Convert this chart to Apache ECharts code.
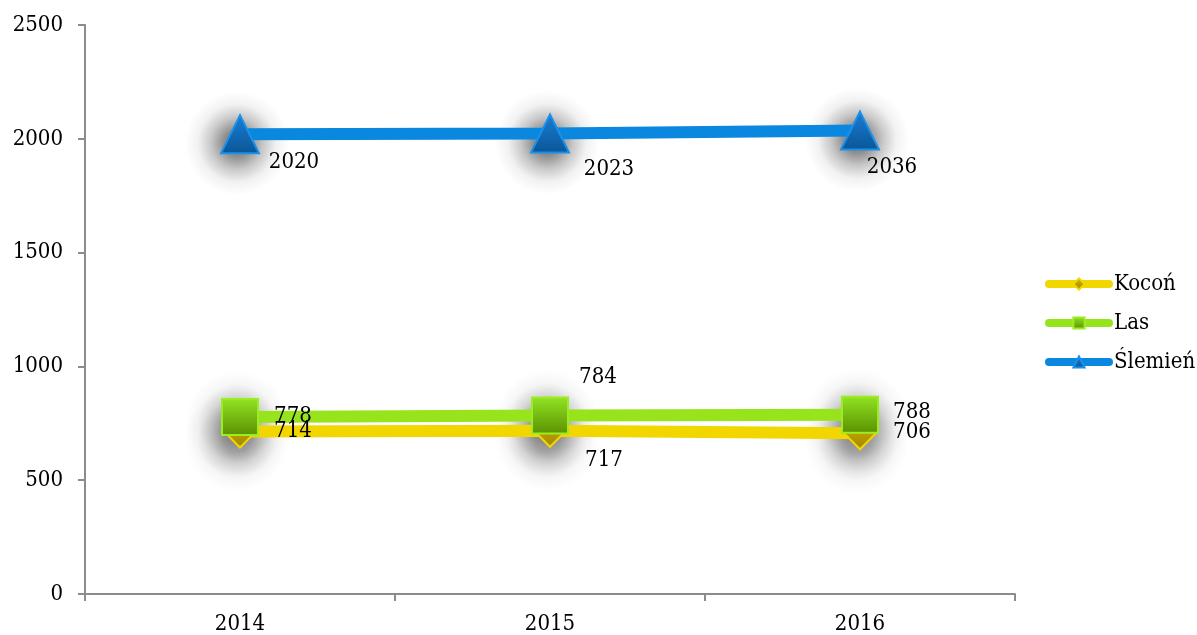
<!DOCTYPE html>
<html>
<head>
<meta charset="utf-8">
<script src="https://cdn.jsdelivr.net/npm/echarts@6/dist/echarts.min.js"></script>
<style>
  html, body { margin: 0; padding: 0; background: #fff; }
  #chart { width: 1197px; height: 635px; }
</style>
</head>
<body>
<div id="chart"></div>
<script>
// ---- data ----
var years = ['2014', '2015', '2016'];
var kocon = [714, 717, 706];
var las = [778, 784, 788];
var slemien = [2020, 2023, 2036];
var yTicks = [0, 500, 1000, 1500, 2000, 2500];

// label offsets per point (style only)
var koconOffsets = [[53, 0], [54, 29], [52, -1]];
var lasOffsets = [[53, -1], [48, -38], [52, -2]];
var slemienOffsets = [[54, 28], [59, 36], [32, 37]];

var FONT = '"DejaVu Serif Condensed", "DejaVu Serif", serif';
var FS = 22;

var chart = echarts.init(document.getElementById('chart'));

function grad(top, bottom) {
    return new echarts.graphic.LinearGradient(0, 0, 0, 1, [
        { offset: 0, color: top },
        { offset: 1, color: bottom }
    ]);
}

function points(values, offsets) {
    return values.map(function (v, i) {
        return {
            value: v,
            label: { offset: offsets[i] }
        };
    });
}

function makeSeries(name, values, offsets, color, symbol, size, fill, border) {
    return {
        name: name,
        type: 'line',
        z: 3,
        data: points(values, offsets),
        symbol: symbol,
        symbolSize: size,
        showAllSymbol: true,
        lineStyle: { color: color, width: 12 },
        itemStyle: {
            color: fill,
            borderColor: border,
            borderWidth: 2
        },
        label: {
            show: true,
            position: 'inside',
            align: 'center',
            verticalAlign: 'middle',
            color: '#000',
            fontFamily: FONT,
            fontSize: FS
        },
        emphasis: { disabled: true },
        animation: false
    };
}

// soft round shadow under each marker, drawn beneath all lines
function shadowFill(k) {
    return new echarts.graphic.RadialGradient(0.5, 0.5, 0.5, [
        { offset: 0, color: 'rgba(0,0,0,' + (0.75 * k) + ')' },
        { offset: 0.25, color: 'rgba(0,0,0,' + (0.65 * k) + ')' },
        { offset: 0.5, color: 'rgba(0,0,0,' + (0.32 * k) + ')' },
        { offset: 0.75, color: 'rgba(0,0,0,' + (0.08 * k) + ')' },
        { offset: 1, color: 'rgba(0,0,0,0)' }
    ]);
}

function shadowSeries(values, dy, k) {
    return {
        type: 'scatter',
        z: 1,
        data: values,
        symbol: 'circle',
        symbolSize: 104,
        symbolOffset: [-3, dy],
        silent: true,
        itemStyle: { color: shadowFill(k) },
        emphasis: { disabled: true },
        animation: false
    };
}

var option = {
    animation: false,
    textStyle: { fontFamily: FONT },
    grid: { left: 85, right: 182, top: 25, bottom: 37 },
    legend: {
        orient: 'vertical',
        left: 1040,
        top: 268,
        itemWidth: 60,
        itemHeight: 14,
        itemGap: 17,
        lineStyle: { width: 8, cap: 'round' },
        textStyle: { fontFamily: FONT, fontSize: FS, color: '#000' },
        data: ['Kocoń', 'Las', 'Ślemień']
    },
    xAxis: {
        type: 'category',
        data: years,
        boundaryGap: true,
        axisLine: { lineStyle: { color: '#8c8c8c', width: 2 } },
        axisTick: { show: true, length: 7, lineStyle: { color: '#8c8c8c', width: 2 } },
        axisLabel: { color: '#000', fontFamily: FONT, fontSize: FS, margin: 19 },
        splitLine: { show: false }
    },
    yAxis: {
        type: 'value',
        min: yTicks[0],
        max: yTicks[yTicks.length - 1],
        interval: yTicks[1] - yTicks[0],
        axisLine: { show: true, lineStyle: { color: '#8c8c8c', width: 2 } },
        axisTick: { show: true, length: 7, lineStyle: { color: '#8c8c8c', width: 2 } },
        axisLabel: {
            color: '#000', fontFamily: FONT, fontSize: FS, margin: 22,
            formatter: function (v) { return String(v); }
        },
        splitLine: { show: false }
    },
    series: [
        shadowSeries(kocon, 8, 0.55),
        shadowSeries(las, 6, 0.55),
        shadowSeries(slemien, 9, 0.85),
        makeSeries('Kocoń', kocon, koconOffsets, '#f2d600', 'diamond', 32,
            grad('#d6b800', '#a08400'), '#f2d600'),
        makeSeries('Las', las, lasOffsets, '#98e41c', 'rect', 36,
            grad('#92e424', '#5a9000'), '#9cec22'),
        makeSeries('Ślemień', slemien, slemienOffsets, '#0a88e0', 'triangle', 38,
            grad('#1a7ed6', '#0a5696'), '#1a90ea')
    ]
};

chart.setOption(option);
</script>
</body>
</html>
